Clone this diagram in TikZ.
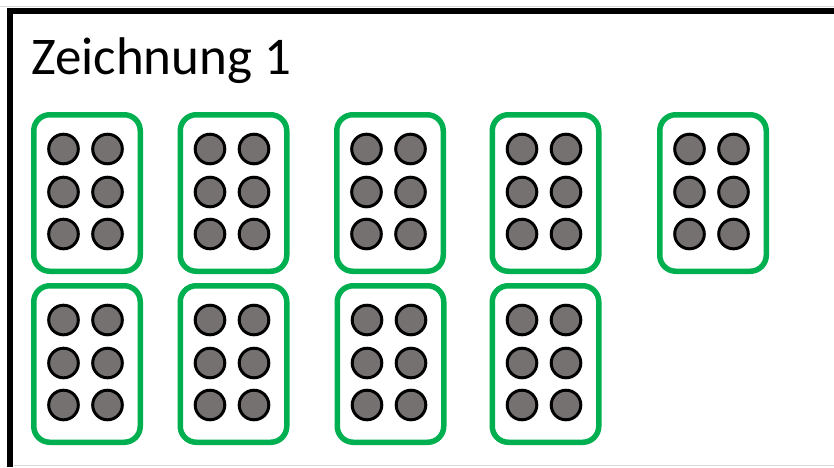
\documentclass[tikz,border=0pt]{standalone}
\usepackage{fontspec}
\setmainfont{Carlito}
\usepackage{xcolor}
\definecolor{cardgreen}{RGB}{0, 176, 80}
\definecolor{dotgray}{RGB}{118, 113, 113}

\begin{document}
\begin{tikzpicture}[x=1pt, y=-1pt]
    \useasboundingbox (0,0) rectangle (834,467);

    % Frame
    \draw[black!15, line width=1pt] (0,6) -- (834,6);
    \draw[black!15, line width=1pt] (14,465.5) -- (834,465.5);
    \draw[line width=6pt] (10,467) -- (10,11) -- (834,11);

    % Title
    \node[anchor=base west, inner sep=0pt, font=\fontsize{53}{63}\selectfont] (title) at (31,74) {Zeichnung 1};

    % Cards with six dots each
    \foreach \bx/\by in {31/112, 177.5/112, 334/112, 489.5/112, 657/112,
                         31/283, 177.5/283, 334.5/283, 489.5/283} {
        \draw[cardgreen, line width=5.5pt, rounded corners=16pt] (\bx+2.75,\by+2.75) rectangle ++(106.5,156.5);
        \foreach \cx in {32.5,76.5}
            \foreach \cy in {37,80,122}
                \draw[fill=dotgray, line width=3pt] (\bx+\cx,\by+\cy) circle (14.8pt);
    }
\end{tikzpicture}
\end{document}
